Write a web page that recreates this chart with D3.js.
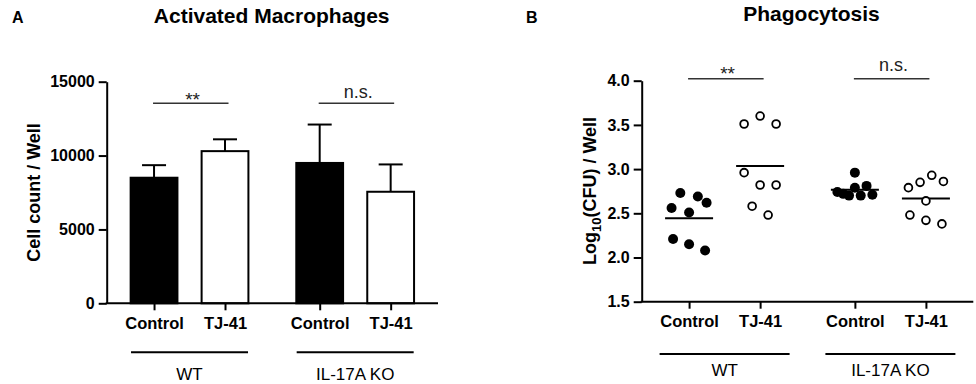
<!DOCTYPE html>
<html>
<head>
<meta charset="utf-8">
<script src="https://cdn.jsdelivr.net/npm/d3@7"></script>
<style>
  body { margin: 0; background: #fff; }
  text { font-family: "Liberation Sans", Arial, sans-serif; fill: #000; }
</style>
</head>
<body>
<div id="chart-area"></div>
<script>
// ---- data ----
const groups = ["WT", "IL-17A KO"];
const treatments = ["Control", "TJ-41"];

// panel A: activated macrophages (mean and upper error), order WT Control, WT TJ-41, KO Control, KO TJ-41
const cellMean = [8500, 10300, 9500, 7550];
const cellErr = [850, 800, 2600, 1850];
const cellTicks = [0, 5000, 10000, 15000];

// panel B: phagocytosis, log10(CFU) per well
const cfuWtControl = [2.56, 2.21, 2.73, 2.51, 2.15, 2.69, 2.62, 2.08];
const cfuWtTj41 = [3.51, 2.96, 2.58, 3.60, 2.82, 2.48, 3.51, 2.82];
const cfuKoControl = [2.74, 2.72, 2.70, 2.96, 2.79, 2.70, 2.81, 2.71];
const cfuKoTj41 = [2.79, 2.48, 2.85, 2.64, 2.42, 2.93, 2.38, 2.86];
const cfuTicks = [1.5, 2.0, 2.5, 3.0, 3.5, 4.0];

const sigLabels = ["**", "n.s."];

// ---- setup ----
const width = 976;
const height = 384;

const svg = d3.select('#chart-area')
    .append('svg')
    .attr("width", width)
    .attr("height", height)
    .style('background', '#fff');

const keys = [];
groups.forEach(g => treatments.forEach(t => keys.push(g + "|" + t)));

function makeX(x0, x1) {
    const band = d3.scaleBand().domain(groups).range([x0, x1]).padding(0);
    const inner = d3.scalePoint().domain(treatments).range([0, band.bandwidth()]).padding(0.667);
    return d3.scaleOrdinal()
        .domain(keys)
        .range(keys.map(k => band(k.split("|")[0]) + inner(k.split("|")[1])));
}

function drawAxes(x, y, x0, x1, yTicks, fmt) {
    const yAxis = d3.axisLeft(y)
        .tickValues(yTicks)
        .tickFormat(fmt)
        .tickSize(8)
        .tickSizeOuter(0)
        .tickPadding(4);
    const ya = svg.append('g')
        .attr('class', 'y axis')
        .attr('transform', `translate(${x0}, 0)`)
        .call(yAxis);

    const xAxis = d3.axisBottom(x)
        .tickFormat(d => d.split("|")[1])
        .tickSize(7)
        .tickSizeOuter(0)
        .tickPadding(6.5);
    const xa = svg.append('g')
        .attr('class', 'x axis')
        .attr('transform', `translate(0, ${y.range()[0]})`)
        .call(xAxis);
    xa.select('.domain').attr('d', `M${x0 - 1},0H${x1}`);

    svg.selectAll('.axis .domain, .axis .tick line')
        .style('stroke', '#000')
        .style('stroke-width', 2);
    ya.selectAll('.tick text')
        .attr('font-size', '16px')
        .attr('font-weight', 'bold');
    xa.selectAll('.tick text')
        .attr('font-size', '16.5px')
        .attr('font-weight', 'bold');
}

function drawGroups(x, yLine, halfW, yText) {
    groups.forEach(g => {
        const cx = (x(g + "|" + treatments[0]) + x(g + "|" + treatments[1])) / 2;
        svg.append('line')
            .attr('x1', cx - halfW).attr('x2', cx + halfW)
            .attr('y1', yLine).attr('y2', yLine)
            .attr('stroke', '#000').attr('stroke-width', 2);
        svg.append('text')
            .attr('x', cx).attr('y', yText)
            .attr('text-anchor', 'middle')
            .attr('font-size', '17px')
            .text(g);
    });
}

function drawSig(x, yLine, nsOffset, starOffset) {
    groups.forEach((g, i) => {
        const a = x(g + "|" + treatments[0]);
        const b = x(g + "|" + treatments[1]);
        svg.append('line')
            .attr('x1', a - 1).attr('x2', b + 3.5)
            .attr('y1', yLine).attr('y2', yLine)
            .attr('stroke', '#333').attr('stroke-width', 1.5);
        const star = sigLabels[i] === "**";
        svg.append('text')
            .attr('x', (a + b) / 2 + 3)
            .attr('y', yLine + (star ? starOffset : nsOffset))
            .attr('text-anchor', 'middle')
            .attr('font-size', star ? '19px' : '18px')
            .style('fill', '#222')
            .text(sigLabels[i]);
    });
}

// ---- panel A ----
const xA = makeX(106.7, 438);
const yA = d3.scaleLinear().domain([0, 15000]).range([303.3, 81.7]);
const barW = 46.8;

const barData = keys.map((k, i) => ({ key: k, mean: cellMean[i], err: cellErr[i], filled: k.endsWith("Control") }));

svg.append('g').selectAll('line.err')
    .data(barData)
    .enter()
    .append('line')
    .attr('x1', d => xA(d.key)).attr('x2', d => xA(d.key))
    .attr('y1', d => yA(d.mean)).attr('y2', d => yA(d.mean + d.err))
    .attr('stroke', '#000').attr('stroke-width', 2);

svg.append('g').selectAll('line.cap')
    .data(barData)
    .enter()
    .append('line')
    .attr('x1', d => xA(d.key) - 12).attr('x2', d => xA(d.key) + 12)
    .attr('y1', d => yA(d.mean + d.err)).attr('y2', d => yA(d.mean + d.err))
    .attr('stroke', '#000').attr('stroke-width', 2);

svg.append('g').selectAll('rect')
    .data(barData)
    .enter()
    .append('rect')
    .attr('x', d => xA(d.key) - barW / 2)
    .attr('y', d => yA(d.mean))
    .attr('width', barW)
    .attr('height', d => yA(0) - yA(d.mean))
    .attr('fill', d => d.filled ? '#000' : '#fff')
    .attr('stroke', '#000')
    .attr('stroke-width', 2);

drawAxes(xA, yA, 106.7, 438, cellTicks, d3.format("d"));
drawSig(xA, 103.3, -5, 3);
drawGroups(xA, 352.3, 58.5, 380);

svg.append('text')
    .attr('transform', 'rotate(-90)')
    .attr('x', -192.5)
    .attr('y', 40)
    .attr('text-anchor', 'middle')
    .attr('font-size', '18px')
    .attr('font-weight', 'bold')
    .text("Cell count / Well");

svg.append('text')
    .attr('x', 271.7).attr('y', 23)
    .attr('text-anchor', 'middle')
    .attr('font-size', '21px')
    .attr('font-weight', 'bold')
    .text("Activated Macrophages");

svg.append('text')
    .attr('x', 12).attr('y', 23.3)
    .attr('font-size', '16px')
    .attr('font-weight', 'bold')
    .text("A");

// ---- panel B ----
const xB = makeX(641.7, 973.3);
const yB = d3.scaleLinear().domain([1.5, 4.0]).range([301.7, 80.7]);

const cfuSets = [cfuWtControl, cfuWtTj41, cfuKoControl, cfuKoTj41];

// lay points of one group out in rows, Prism-like scatter
function swarm(values) {
    const order = values.map((v, i) => i).sort((a, b) => values[b] - values[a]);
    const rows = [];
    let row = [];
    order.forEach((idx, j) => {
        if (j > 0 && values[order[j - 1]] - values[idx] > 0.145) {
            rows.push(row);
            row = [];
        }
        row.push(idx);
    });
    rows.push(row);
    const offs = new Array(values.length).fill(0);
    rows.forEach(r => {
        r.sort((a, b) => a - b);
        const n = r.length;
        const step = n > 1 ? Math.min(16, 35 / (n - 1)) : 0;
        r.forEach((idx, k) => { offs[idx] = (k - (n - 1) / 2) * step; });
    });
    return offs;
}

const dots = [];
const means = [];
cfuSets.forEach((vals, gi) => {
    const offs = swarm(vals);
    vals.forEach((v, i) => dots.push({ key: keys[gi], value: v, dx: offs[i], filled: keys[gi].endsWith("Control") }));
    means.push({ key: keys[gi], value: d3.mean(vals) });
});

svg.append('g').selectAll('line')
    .data(means)
    .enter()
    .append('line')
    .attr('x1', d => xB(d.key) - 24).attr('x2', d => xB(d.key) + 24)
    .attr('y1', d => yB(d.value)).attr('y2', d => yB(d.value))
    .attr('stroke', '#000').attr('stroke-width', 2);

svg.append('g').selectAll('circle')
    .data(dots)
    .enter()
    .append('circle')
    .attr('cx', d => xB(d.key) + d.dx)
    .attr('cy', d => yB(d.value))
    .attr('r', d => d.filled ? 5 : 3.9)
    .attr('fill', d => d.filled ? '#000' : '#fff')
    .attr('stroke', d => d.filled ? 'none' : '#000')
    .attr('stroke-width', 1.8);

drawAxes(xB, yB, 641.7, 973.3, cfuTicks, d3.format(".1f"));
drawSig(xB, 78.7, -8, 1);
drawGroups(xB, 354, 65, 376);

const yLabB = svg.append('text')
    .attr('transform', 'rotate(-90)')
    .attr('x', -191)
    .attr('y', 596)
    .attr('text-anchor', 'middle')
    .attr('font-size', '18px')
    .attr('font-weight', 'bold');
yLabB.append('tspan').text("Log");
yLabB.append('tspan').attr('dy', 5).attr('font-size', '13px').text("10");
yLabB.append('tspan').attr('dy', -5).text("(CFU) / Well");

svg.append('text')
    .attr('x', 811.5).attr('y', 21)
    .attr('text-anchor', 'middle')
    .attr('font-size', '21px')
    .attr('font-weight', 'bold')
    .text("Phagocytosis");

svg.append('text')
    .attr('x', 526).attr('y', 22.7)
    .attr('font-size', '16px')
    .attr('font-weight', 'bold')
    .text("B");
</script>
</body>
</html>
